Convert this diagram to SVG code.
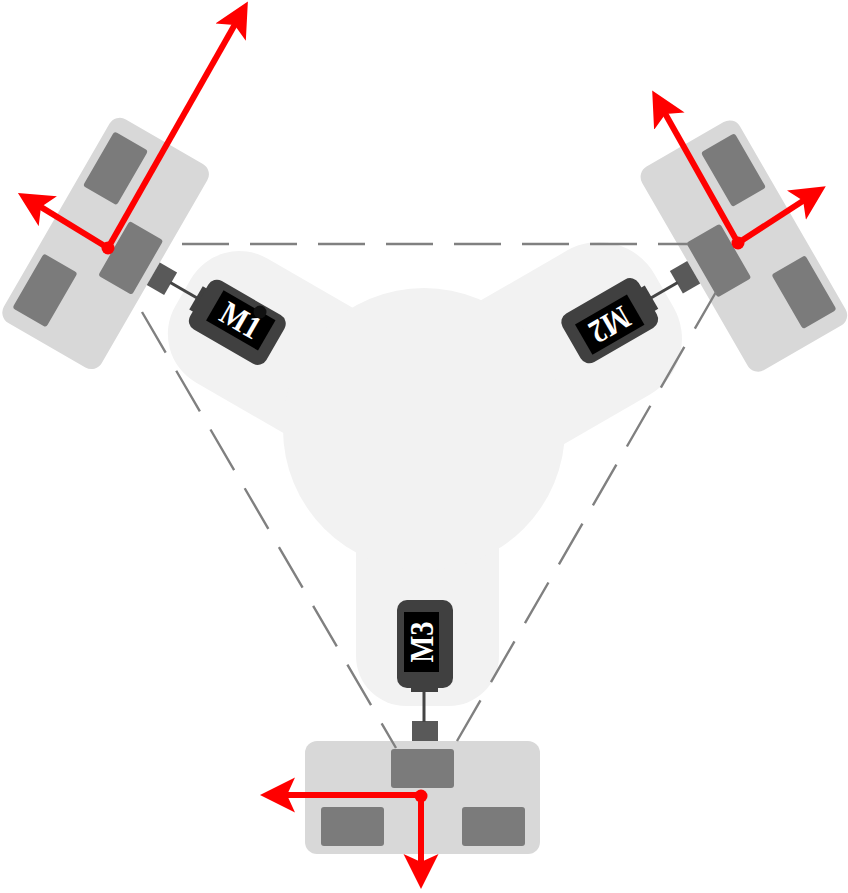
<svg xmlns="http://www.w3.org/2000/svg" width="848" height="893" viewBox="0 0 848 893">
<style>
.bg{fill:#f2f2f2}
.board{fill:#d8d8d8}
.block{fill:#7b7b7b}
.mount{fill:#595959}
.shaft{stroke:#444;stroke-width:3;fill:none}
.motor{fill:#404040}
.label{fill:#000}
.ltext{font-family:"Liberation Serif","Times New Roman",serif;font-weight:bold;font-size:33px;fill:#fff;text-anchor:middle}
.dash{stroke:#808080;stroke-width:2.4;fill:none;stroke-dasharray:47 21}
.vec{stroke:#f00;stroke-width:6;fill:none;marker-end:url(#arrow)}
.dot{fill:#f00}
</style>
<defs>
<marker id="arrow" markerUnits="userSpaceOnUse" markerWidth="36" markerHeight="36" viewBox="0 -18 36 36" refX="15" refY="0" orient="auto"><path d="M35 0L0-17.5L8 0L0 17.5Z" fill="#f00"/></marker>
<g id="unit">
<rect class="board" x="305" y="741" width="235" height="113" rx="12"/>
<rect class="block" x="391" y="749" width="63" height="39" rx="3"/>
<rect class="block" x="321" y="807" width="63" height="39" rx="3"/>
<rect class="block" x="462" y="807" width="63" height="39" rx="3"/>
<rect class="mount" x="412" y="721" width="26" height="20"/>
<line class="shaft" x1="424" y1="688" x2="424" y2="722"/>
<rect class="motor" x="411" y="684" width="27" height="8"/>
<rect class="motor" x="397" y="600" width="56" height="88" rx="10"/>
<rect class="label" x="404" y="612" width="35" height="60"/>
</g>
</defs>
<g id="chassis">
<rect class="bg" x="356" y="429" width="143" height="277" rx="50"/>
<rect class="bg" x="352.5" y="429" width="143" height="277" rx="56" transform="translate(-1 2) rotate(120 424 429)"/>
<rect class="bg" x="341" y="429" width="166" height="277" rx="64" transform="rotate(240 424 429)"/>
<circle class="bg" cx="424" cy="429" r="141"/>
</g>
<g id="M1-unit">
<g transform="rotate(120 424 429)">
<use href="#unit"/>
<text class="ltext" transform="translate(432.5 642) rotate(-90)" textLength="41" lengthAdjust="spacingAndGlyphs">M1</text>
</g>
<circle cx="260" cy="312" r="6.5" fill="#111"/>
</g>
<g id="M2-unit" transform="rotate(240 424 429)">
<use href="#unit"/>
<text class="ltext" transform="translate(432.5 642) rotate(-90)" textLength="41" lengthAdjust="spacingAndGlyphs">M2</text>
</g>
<g id="M3-unit">
<use href="#unit"/>
<text class="ltext" transform="translate(432.5 642) rotate(-90)" textLength="41" lengthAdjust="spacingAndGlyphs">M3</text>
</g>
<g id="connectors">
<line class="dash" x1="182" y1="244" x2="688" y2="244"/>
<line class="dash" x1="142" y1="312" x2="396" y2="748"/>
<line class="dash" x1="457" y1="741" x2="716" y2="292"/>
</g>
<g id="vectors">
<line class="vec" x1="108" y1="248" x2="238" y2="19"/>
<line class="vec" x1="108" y1="248" x2="35" y2="203.4"/>
<circle class="dot" cx="108" cy="248" r="6.5"/>
<line class="vec" x1="738" y1="243" x2="662" y2="108"/>
<line class="vec" x1="738" y1="243" x2="809" y2="197"/>
<circle class="dot" cx="738" cy="243" r="6.5"/>
<line class="vec" x1="421" y1="795" x2="280" y2="795"/>
<line class="vec" x1="421" y1="795" x2="421" y2="869"/>
<circle class="dot" cx="421" cy="796" r="6.5"/>
</g>
</svg>
